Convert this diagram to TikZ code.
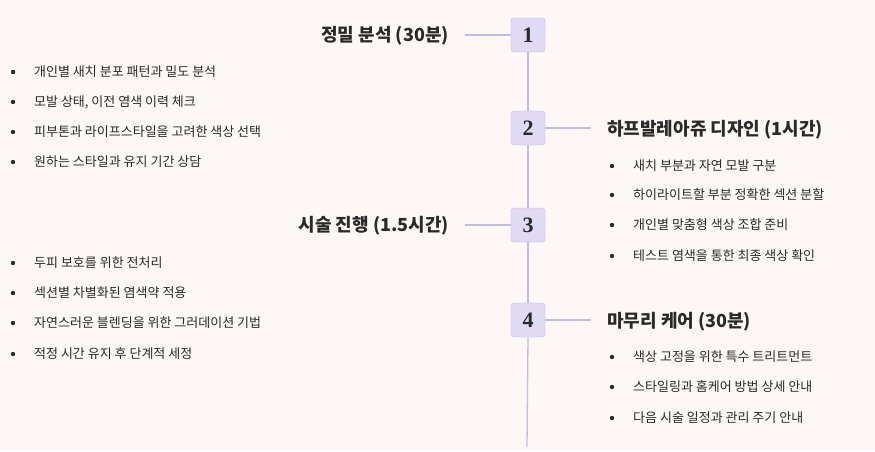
\documentclass[tikz,border=0pt]{standalone}
\usepackage{fontspec}
\setmainfont{Noto Sans CJK KR}
\newfontfamily\numfont{Liberation Serif}
\definecolor{bg}{HTML}{FDF8F5}
\definecolor{boxf}{HTML}{E0DAF4}
\definecolor{boxd}{HTML}{C2B5E6}
\definecolor{ln}{HTML}{C5BBDF}
\definecolor{tx}{HTML}{2A2A2A}
\tikzset{
 stepbox/.style={draw=boxd,fill=boxf,rounded corners=3pt,minimum width=34pt,minimum height=34pt,inner sep=0pt,font=\numfont\bfseries\fontsize{22}{24}\selectfont,text=tx},
 ttl/.style={font=\bfseries\fontsize{18}{20}\selectfont,text=tx,inner sep=0pt},
 bl/.style={font=\fontsize{13}{15}\selectfont,text=tx,anchor=west,inner sep=0pt},
 conn/.style={ln,line width=1.3pt}
}
\newcommand{\bul}[3]{\fill[tx] (#1-21,#2) circle (2.2pt); \node[bl] (#3) at (#1,#2) {#3};}
\begin{document}
\begin{tikzpicture}[x=1pt,y=-1pt]
\fill[bg] (0,0) rectangle (875,451);
\useasboundingbox (0,0) rectangle (875,451);
\coordinate (end) at (527,447);
\node[stepbox] (s1) at (528,35) {1};
\node[stepbox] (s2) at (528,128) {2};
\node[stepbox] (s3) at (528,225) {3};
\node[stepbox] (s4) at (528,320) {4};
\begin{scope}[on background layer/.style={}]
\end{scope}
\draw[conn] (s1.south) -- (s2.north);
\draw[conn] (s2.south) -- (s3.north);
\draw[conn] (s3.south) -- (s4.north);
\draw[conn] (s4.south) -- (end);
\node[ttl,anchor=east] (t1) at (449,36) {정밀 분석 (30분)};
\node[ttl,anchor=west] (t2) at (607,130) {하프발레아쥬 디자인 (1시간)};
\node[ttl,anchor=east] (t3) at (449,226) {시술 진행 (1.5시간)};
\node[ttl,anchor=west] (t4) at (607,322) {마무리 케어 (30분)};
\coordinate (c1) at (465,35); \draw[conn] (c1) -- (s1.west);
\coordinate (c2) at (591,128); \draw[conn] (s2.east) -- (c2);
\coordinate (c3) at (465,225); \draw[conn] (c3) -- (s3.west);
\coordinate (c4) at (591,320); \draw[conn] (s4.east) -- (c4);
\bul{34}{72}{개인별 새치 분포 패턴과 밀도 분석}
\bul{34}{102}{모발 상태, 이전 염색 이력 체크}
\bul{34}{132}{피부톤과 라이프스타일을 고려한 색상 선택}
\bul{34}{162}{원하는 스타일과 유지 기간 상담}
\bul{633}{166}{새치 부분과 자연 모발 구분}
\bul{633}{195}{하이라이트할 부분 정확한 섹션 분할}
\bul{633}{225}{개인별 맞춤형 색상 조합 준비}
\bul{633}{256}{테스트 염색을 통한 최종 색상 확인}
\bul{34}{263}{두피 보호를 위한 전처리}
\bul{34}{293}{섹션별 차별화된 염색약 적용}
\bul{34}{323}{자연스러운 블렌딩을 위한 그러데이션 기법}
\bul{34}{354}{적정 시간 유지 후 단계적 세정}
\bul{633}{357}{색상 고정을 위한 특수 트리트먼트}
\bul{633}{387}{스타일링과 홈케어 방법 상세 안내}
\bul{633}{418}{다음 시술 일정과 관리 주기 안내}
\end{tikzpicture}
\end{document}
